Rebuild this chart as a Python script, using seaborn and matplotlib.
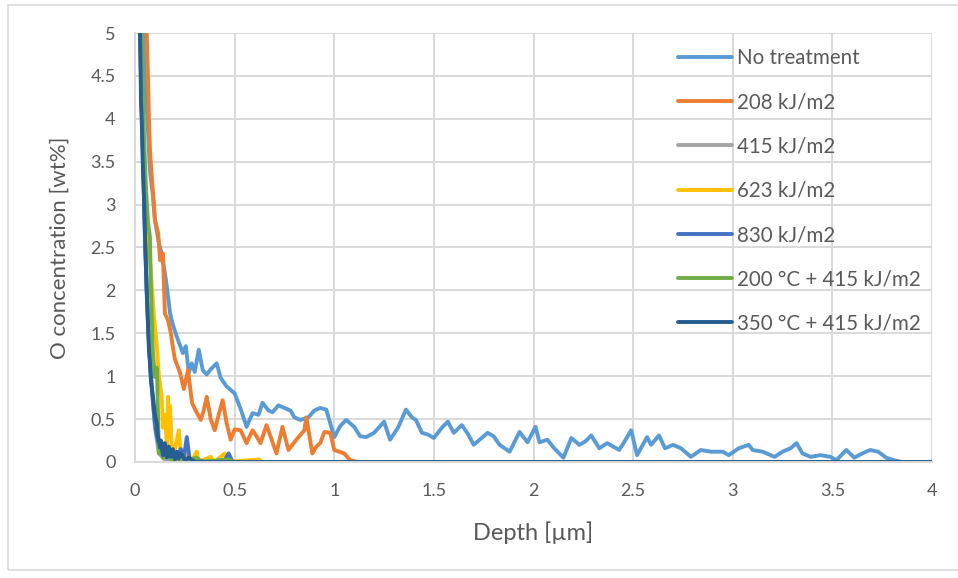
import matplotlib
matplotlib.use("Agg")
import matplotlib.pyplot as plt
import seaborn as sns
import pandas as pd
from matplotlib.patches import Rectangle
from matplotlib.ticker import FuncFormatter

# ---------------- data (depth [um], O concentration [wt%]) ----------------
labels = ["No treatment", "208 kJ/m2", "415 kJ/m2", "623 kJ/m2", "830 kJ/m2",
          "200 °C + 415 kJ/m2", "350 °C + 415 kJ/m2"]
colors = ["#5B9BD5", "#ED7D31", "#A5A5A5", "#FFC000", "#4472C4", "#70AD47", "#255E91"]

no_treatment = [(0.02, 6.0), (0.04, 5.0), (0.06, 4.1), (0.075, 3.4), (0.09, 3.1), (0.10, 2.82),
    (0.12, 2.55), (0.134, 2.43), (0.15, 2.2), (0.16, 2.04), (0.176, 1.73), (0.19, 1.6),
    (0.21, 1.46), (0.24, 1.27), (0.255, 1.35), (0.27, 1.04), (0.285, 1.15), (0.30, 1.05),
    (0.32, 1.31), (0.34, 1.07), (0.36, 1.02), (0.38, 1.08), (0.41, 1.15), (0.43, 0.98),
    (0.46, 0.88), (0.50, 0.80), (0.53, 0.62), (0.56, 0.41), (0.59, 0.57), (0.62, 0.55),
    (0.64, 0.69), (0.67, 0.60), (0.69, 0.58), (0.72, 0.66), (0.75, 0.63), (0.78, 0.60),
    (0.80, 0.52), (0.83, 0.49), (0.87, 0.52), (0.90, 0.60), (0.93, 0.63), (0.96, 0.61),
    (1.00, 0.29), (1.03, 0.42), (1.06, 0.49), (1.10, 0.41), (1.13, 0.30), (1.16, 0.29),
    (1.20, 0.34), (1.25, 0.47), (1.28, 0.26), (1.32, 0.40), (1.36, 0.61), (1.39, 0.52),
    (1.41, 0.49), (1.44, 0.34), (1.47, 0.32), (1.50, 0.28), (1.54, 0.40), (1.57, 0.47),
    (1.60, 0.34), (1.64, 0.43), (1.67, 0.33), (1.70, 0.20), (1.74, 0.28), (1.77, 0.34),
    (1.80, 0.30), (1.83, 0.20), (1.88, 0.12), (1.93, 0.35), (1.97, 0.23), (2.01, 0.41),
    (2.03, 0.23), (2.07, 0.26), (2.10, 0.17), (2.15, 0.05), (2.19, 0.28), (2.23, 0.20),
    (2.26, 0.24), (2.29, 0.31), (2.33, 0.16), (2.37, 0.22), (2.40, 0.18), (2.43, 0.14),
    (2.46, 0.25), (2.49, 0.37), (2.52, 0.08), (2.57, 0.29), (2.59, 0.20), (2.63, 0.31),
    (2.66, 0.16), (2.70, 0.20), (2.74, 0.16), (2.79, 0.06), (2.84, 0.14), (2.89, 0.12),
    (2.95, 0.12), (2.98, 0.08), (3.03, 0.16), (3.08, 0.20), (3.10, 0.14), (3.15, 0.12),
    (3.21, 0.06), (3.25, 0.12), (3.29, 0.16), (3.32, 0.22), (3.35, 0.10), (3.39, 0.06),
    (3.44, 0.08), (3.49, 0.06), (3.52, 0.02), (3.57, 0.14), (3.61, 0.05), (3.65, 0.10),
    (3.69, 0.14), (3.73, 0.12), (3.77, 0.05), (3.81, 0.02), (3.85, 0.0), (4.0, 0.0)]

kj208 = [(0.05, 6.0), (0.059, 5.0), (0.065, 4.5), (0.07, 4.0), (0.075, 3.64), (0.085, 3.3),
    (0.095, 3.0), (0.10, 2.82), (0.116, 2.67), (0.126, 2.35), (0.14, 2.43), (0.15, 1.73),
    (0.166, 1.65), (0.18, 1.5), (0.19, 1.34), (0.20, 1.2), (0.226, 1.04), (0.245, 0.85),
    (0.266, 1.07), (0.286, 0.69), (0.30, 0.62), (0.33, 0.49), (0.345, 0.60), (0.36, 0.76),
    (0.38, 0.50), (0.40, 0.37), (0.42, 0.55), (0.44, 0.72), (0.46, 0.45), (0.48, 0.26),
    (0.50, 0.38), (0.53, 0.37), (0.56, 0.22), (0.59, 0.37), (0.61, 0.30), (0.63, 0.22),
    (0.66, 0.43), (0.68, 0.30), (0.71, 0.10), (0.74, 0.41), (0.77, 0.14), (0.79, 0.20),
    (0.81, 0.26), (0.85, 0.37), (0.86, 0.52), (0.89, 0.10), (0.91, 0.18), (0.93, 0.22),
    (0.95, 0.35), (0.98, 0.34), (1.00, 0.14), (1.05, 0.10), (1.08, 0.02), (1.12, 0.0),
    (4.0, 0.0)]

kj415 = [(0.02, 6.0), (0.03, 4.4), (0.04, 3.5), (0.05, 2.6), (0.06, 1.9), (0.07, 1.4),
    (0.08, 1.0), (0.09, 0.7), (0.10, 0.4), (0.11, 0.25), (0.12, 0.1), (0.14, 0.05),
    (0.16, 0.0), (4.0, 0.0)]

kj623 = [(0.02, 6.0), (0.03, 4.5), (0.04, 3.6), (0.05, 3.1), (0.059, 2.86), (0.07, 2.5),
    (0.084, 2.08), (0.095, 1.7), (0.11, 1.34), (0.12, 1.0), (0.134, 0.76), (0.14, 0.4),
    (0.15, 0.55), (0.16, 0.2), (0.166, 0.76), (0.17, 0.3), (0.176, 0.65), (0.185, 0.1),
    (0.20, 0.15), (0.22, 0.37), (0.23, 0.05), (0.26, 0.08), (0.28, 0.0), (0.31, 0.12),
    (0.32, 0.0), (0.38, 0.06), (0.40, 0.0), (0.45, 0.10), (0.46, 0.0), (0.62, 0.03),
    (0.64, 0.0), (4.0, 0.0)]

kj830 = [(0.02, 6.0), (0.03, 4.5), (0.04, 3.6), (0.05, 2.6), (0.06, 1.9), (0.07, 1.4),
    (0.08, 1.0), (0.09, 0.7), (0.10, 0.45), (0.11, 0.3), (0.12, 0.2), (0.13, 0.1),
    (0.15, 0.18), (0.17, 0.05), (0.19, 0.12), (0.21, 0.04), (0.23, 0.15), (0.245, 0.05),
    (0.26, 0.29), (0.275, 0.02), (0.30, 0.04), (0.35, 0.0), (0.45, 0.02), (0.47, 0.10),
    (0.49, 0.0), (4.0, 0.0)]

c200_kj415 = [(0.025, 6.0), (0.035, 4.8), (0.045, 3.8), (0.055, 3.2), (0.065, 2.8),
    (0.075, 2.62), (0.08, 2.0), (0.085, 1.6), (0.09, 1.27), (0.10, 0.99), (0.11, 1.1),
    (0.115, 0.6), (0.12, 0.1), (0.13, 0.2), (0.14, 0.05), (0.16, 0.1), (0.18, 0.02),
    (0.20, 0.06), (0.22, 0.0), (0.31, 0.05), (0.33, 0.0), (0.47, 0.03), (0.50, 0.0),
    (4.0, 0.0)]

c350_kj415 = [(0.02, 6.0), (0.025, 5.0), (0.028, 4.6), (0.03, 4.2), (0.035, 3.9),
    (0.039, 3.48), (0.045, 3.1), (0.05, 2.7), (0.055, 2.3), (0.059, 2.0), (0.063, 1.75),
    (0.066, 1.54), (0.07, 1.3), (0.075, 1.15), (0.08, 0.95), (0.09, 0.76), (0.10, 0.55),
    (0.11, 0.45), (0.115, 0.3), (0.125, 0.17), (0.13, 0.25), (0.14, 0.08), (0.15, 0.22),
    (0.16, 0.05), (0.17, 0.18), (0.18, 0.06), (0.19, 0.15), (0.20, 0.03), (0.21, 0.12),
    (0.22, 0.04), (0.23, 0.10), (0.25, 0.02), (0.27, 0.05), (0.30, 0.0), (4.0, 0.0)]

series = [no_treatment, kj208, kj415, kj623, kj830, c200_kj415, c350_kj415]

x_ticks = [0, 0.5, 1, 1.5, 2, 2.5, 3, 3.5, 4]
y_ticks = [0, 0.5, 1, 1.5, 2, 2.5, 3, 3.5, 4, 4.5, 5]

# ---------------- build long table ----------------
rows = []
for lab, pts in zip(labels, series):
    for x, y in pts:
        rows.append({"Depth": x, "O": y, "Series": lab})
df = pd.DataFrame(rows)

# ---------------- plot ----------------
sns.set_theme(style="white")
plt.rcParams["font.family"] = ["Lato", "DejaVu Sans"]
TXT = "#595959"
GRID = "#d9d9d9"
LW = 2.8

fig = plt.figure(figsize=(9.58, 5.78), dpi=100)
ax = fig.add_axes([135 / 958, 1 - 462 / 578, (932 - 135) / 958, (462 - 33) / 578])

sns.lineplot(data=df, x="Depth", y="O", hue="Series", hue_order=labels,
             palette=colors, estimator=None, sort=False, units="Series",
             linewidth=LW, ax=ax, legend=True)
for ln in ax.get_lines():
    ln.set_solid_joinstyle("round")
    ln.set_solid_capstyle("round")

ax.set_xlim(0, 4)
ax.set_ylim(0, 5)
ax.set_xticks(x_ticks)
ax.set_yticks(y_ticks)
fmt = FuncFormatter(lambda v, p: f"{v:g}")
ax.xaxis.set_major_formatter(fmt)
ax.yaxis.set_major_formatter(fmt)
ax.tick_params(axis="both", length=0, labelsize=13, labelcolor=TXT)
ax.tick_params(axis="y", pad=14)
ax.tick_params(axis="x", pad=15)
ax.grid(True, color=GRID, linewidth=1.4)
ax.set_axisbelow(True)
for s in ["top", "right"]:
    ax.spines[s].set_visible(False)
for s in ["left", "bottom"]:
    ax.spines[s].set_color(GRID)
    ax.spines[s].set_linewidth(1.4)

ax.set_xlabel("Depth [µm]", fontsize=17, color=TXT)
ax.set_ylabel("O concentration [wt%]", fontsize=16, color=TXT)
ax.xaxis.set_label_coords(0.5, (462 - 533) / 429)
ax.xaxis.label.set_va("center")
ax.yaxis.set_label_coords((60 - 135) / 797, 0.5)
ax.yaxis.label.set_va("center")

handles, labs = ax.get_legend_handles_labels()
for h in handles:
    h.set_linewidth(LW)
leg = ax.legend(handles, labs, loc="upper left",
                bbox_to_anchor=((678 - 135) / 797, (462 - 48) / 429),
                frameon=False, fontsize=14.8, labelcolor=TXT,
                handlelength=2.65, handletextpad=0.22, labelspacing=1.18,
                borderpad=0, borderaxespad=0)

fig.patches.append(Rectangle((8 / 958, 8 / 578), 1.2, 1 - 5 / 578 - 8 / 578,
                             transform=fig.transFigure, fill=False,
                             edgecolor=GRID, linewidth=1.2))

fig.savefig("out.png", dpi=100)
